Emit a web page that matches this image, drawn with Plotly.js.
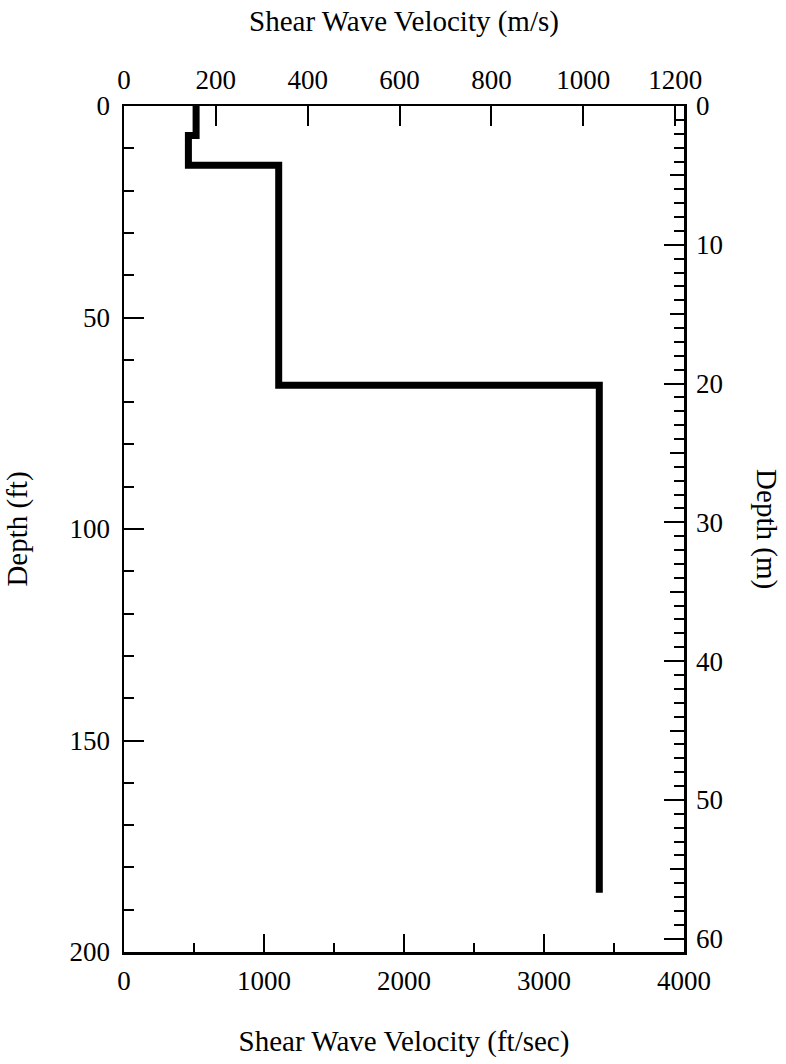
<!DOCTYPE html>
<html>
<head>
<meta charset="utf-8">
<script src="https://cdn.plot.ly/plotly-3.0.1.min.js"></script>
<style>html,body{margin:0;padding:0;background:#fff;}#chart{width:786px;height:1064px;}</style>
</head>
<body>
<div id="chart"></div>
<script>
// Layered shear wave velocity profile (ft/sec vs depth in ft)
const layerTopFt = [0, 7, 14, 66];
const layerBottomFt = [7, 14, 66, 186];
const velocityFtSec = [515, 460, 1105, 3395];

const bottomTickVals = [0, 1000, 2000, 3000, 4000];
const topTickVals = [0, 200, 400, 600, 800, 1000, 1200];
const leftTickVals = [0, 50, 100, 150, 200];
const rightTickVals = [0, 10, 20, 30, 40, 50, 60];

const FT_TO_M = 0.3048;

const xs = [], ys = [];
for (let i = 0; i < velocityFtSec.length; i++) {
  xs.push(velocityFtSec[i], velocityFtSec[i]);
  ys.push(layerTopFt[i], layerBottomFt[i]);
}

const font = {family: 'Liberation Serif, Times New Roman, serif', color: '#000'};
const tickFont = Object.assign({}, font, {size: 27});
const titleFont = Object.assign({}, font, {size: 29});

const data = [
  {x: xs, y: ys, type: 'scatter', mode: 'lines', xaxis: 'x', yaxis: 'y',
   line: {color: '#000', width: 7}, hoverinfo: 'skip', showlegend: false},
  {x: [0], y: [0], xaxis: 'x2', yaxis: 'y', mode: 'markers', marker: {opacity: 0}, showlegend: false, hoverinfo: 'skip'},
  {x: [0], y: [0], xaxis: 'x', yaxis: 'y2', mode: 'markers', marker: {opacity: 0}, showlegend: false, hoverinfo: 'skip'},
  {x: [0], y: [0], xaxis: 'x', yaxis: 'y3', mode: 'markers', marker: {opacity: 0}, showlegend: false, hoverinfo: 'skip'}
];

const common = {showgrid: false, zeroline: false, showline: true, linecolor: '#000', linewidth: 2.5,
  ticks: 'inside', tickcolor: '#000', tickwidth: 2, tickfont: tickFont};

const layout = {
  width: 786, height: 1064,
  margin: {l: 124, r: 102, t: 106, b: 112, pad: 0},
  paper_bgcolor: '#fff', plot_bgcolor: '#fff',
  font: font,
  showlegend: false,
  xaxis: Object.assign({}, common, {
    range: [0, 4000], tickmode: 'array', tickvals: bottomTickVals, ticklen: 18,
    minor: {dtick: 500, ticks: 'inside', ticklen: 9, tickcolor: '#000', tickwidth: 2, showgrid: false},
    ticklabelstandoff: 3,
    title: {text: 'Shear Wave Velocity (ft/sec)', font: titleFont, standoff: 36}
  }),
  xaxis2: Object.assign({}, common, {
    overlaying: 'x', side: 'top', anchor: 'y',
    range: [0, 4000 * FT_TO_M], tickmode: 'array', tickvals: topTickVals, ticklen: 20,
    ticklabelstandoff: 4,
    title: {text: 'Shear Wave Velocity (m/s)', font: titleFont, standoff: 25}
  }),
  yaxis: Object.assign({}, common, {
    range: [200, 0], tickmode: 'array', tickvals: leftTickVals, ticklen: 20,
    minor: {dtick: 10, ticks: 'inside', ticklen: 10, tickcolor: '#000', tickwidth: 2, showgrid: false},
    ticklabelstandoff: 6,
    title: {text: 'Depth (ft)', font: titleFont, standoff: 34}
  }),
  yaxis2: Object.assign({}, common, {
    overlaying: 'y', side: 'right', anchor: 'x',
    range: [200 * FT_TO_M, 0], tickmode: 'array', tickvals: rightTickVals, ticklen: 20,
    minor: {dtick: 1, ticks: 'inside', ticklen: 10, tickcolor: '#000', tickwidth: 2, showgrid: false},
    ticklabelstandoff: 4
  }),
  yaxis3: Object.assign({}, common, {
    overlaying: 'y', side: 'right', anchor: 'x',
    range: [200 * FT_TO_M, 0], dtick: 5, tick0: 0, ticklen: 14, showticklabels: false
  }),
  annotations: [
    {text: 'Depth (m)', xref: 'paper', yref: 'paper', x: 1.148, y: 0.5,
     textangle: 90, showarrow: false, font: titleFont, xanchor: 'center', yanchor: 'middle'}
  ]
};

Plotly.newPlot('chart', data, layout, {displayModeBar: false, staticPlot: true});
</script>
</body>
</html>
